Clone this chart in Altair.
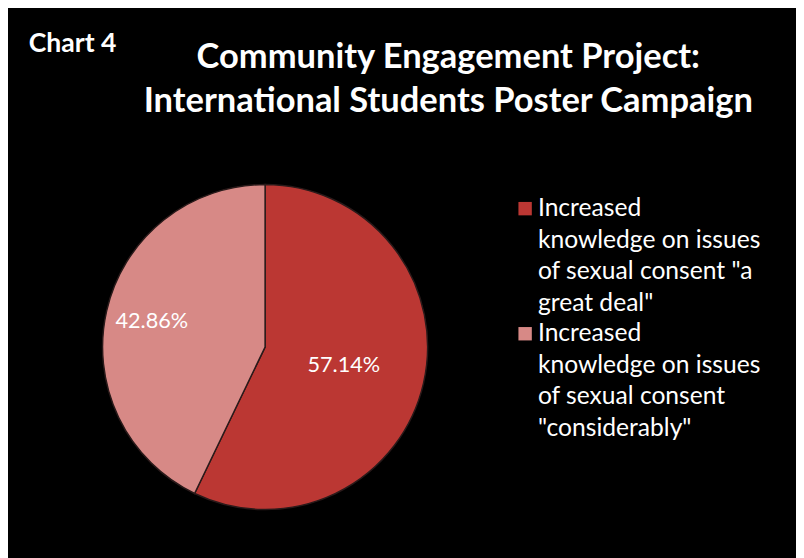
import altair as alt
import pandas as pd

# ---- data ----
categories = [
    'Increased knowledge on issues of sexual consent "a great deal"',
    'Increased knowledge on issues of sexual consent "considerably"',
]
legend_text = [
    'Increased\nknowledge on issues\nof sexual consent "a\ngreat deal"',
    'Increased\nknowledge on issues\nof sexual consent\n"considerably"',
]
values = [57.14, 42.86]
slice_order = [0, 1]
colors = ["#bb3733", "#d78986"]
title_lines = ["Community Engagement Project:\nInternational Students Poster Campaign"]
chart_tag = ["Chart 4"]

df = pd.DataFrame({
    "category": categories,
    "legend": legend_text,
    "value": values,
    "order": slice_order,
})

FONT = "Lato"
OX, OY = 5, 8  # page position of the plot-area origin
cx, cy = 266 - OX, 348 - OY

color = alt.Color("category:N", scale=alt.Scale(domain=categories, range=colors), legend=None)
theta = alt.Theta("value:Q", stack=True)
order = alt.Order("order:Q")

base = alt.Chart(df)

pie = base.mark_arc(outerRadius=165, stroke="#2a1a1a", strokeWidth=1.5).encode(
    theta=theta, order=order, color=color,
    x=alt.value(cx), y=alt.value(cy),
)

pie_labels = base.transform_calculate(
    label="format(datum.value, '.2f') + '%'"
).mark_text(fontSize=22, font=FONT, color="white").encode(
    theta=theta, order=order, text="label:N",
    radius=alt.Radius("value:Q", scale=alt.Scale(domain=[min(values), max(values)],
                                                 range=[118, 82])),
    x=alt.value(cx), y=alt.value(cy),
)

leg_y = alt.Y("category:N", scale=alt.Scale(domain=categories,
              range=[207.5 - OY, 334.5 - OY], padding=0), axis=None)

leg_sym = base.mark_square(size=185, opacity=1).encode(
    x=alt.value(530 - OX), y=leg_y, color=color,
)

leg_text = base.mark_text(align="left", baseline="alphabetic", lineBreak="\n",
                          lineHeight=32, fontSize=25, font=FONT, color="white", dy=7.5).encode(
    x=alt.value(543 - OX), y=leg_y, text="legend:N",
)

title = alt.Chart(pd.DataFrame({"t": title_lines})).mark_text(
    align="center", baseline="alphabetic", lineBreak="\n", lineHeight=44,
    fontSize=35, font=FONT, fontWeight="bold", color="white"
).encode(x=alt.value(452 - OX), y=alt.value(65 - OY), text="t:N")

tag = alt.Chart(pd.DataFrame({"t": chart_tag})).mark_text(
    align="left", baseline="alphabetic", fontSize=27, font=FONT, fontWeight="bold", color="white"
).encode(x=alt.value(26 - OX), y=alt.value(48 - OY), text="t:N")

chart = alt.layer(pie, pie_labels, leg_sym, leg_text, title, tag).properties(
    width=800, height=552,
    background="black",
    padding=0,
).configure_view(stroke=None)

chart.save("out.html", embed_options={"renderer": "svg", "actions": False})
